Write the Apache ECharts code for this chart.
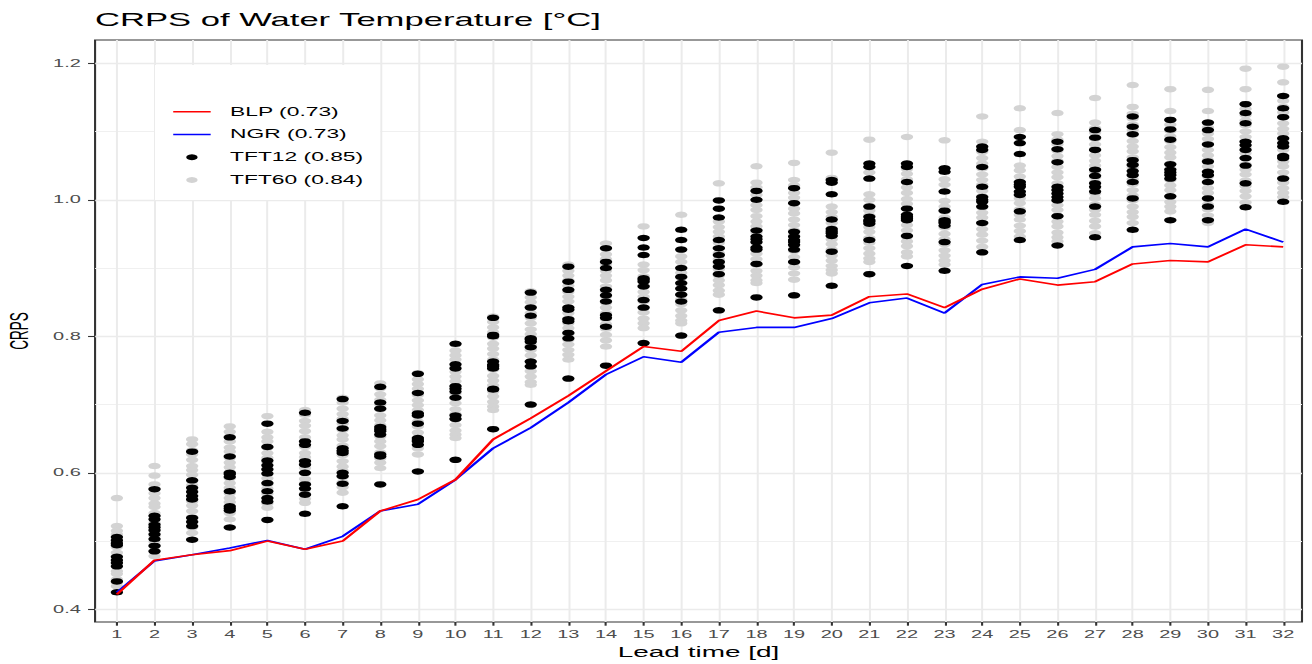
<!DOCTYPE html>
<html>
<head>
<meta charset="utf-8">
<script src="https://cdn.jsdelivr.net/npm/echarts@6/dist/echarts.min.js"></script>
<style>
  html, body { margin: 0; padding: 0; background: #ffffff; overflow: hidden; }
  /* the figure is laid out on a narrower canvas and widened to the page */
  #chart { width: 690px; height: 664px; transform: scaleX(1.901449); transform-origin: 0 0; }
</style>
</head>
<body>
<div id="chart"></div>
<script>
const leadTimes = [1,2,3,4,5,6,7,8,9,10,11,12,13,14,15,16,17,18,19,20,21,22,23,24,25,26,27,28,29,30,31,32];

const blp = [0.422,0.472,0.480,0.486,0.500,0.488,0.500,0.544,0.561,0.590,0.649,0.680,0.713,0.749,0.785,0.778,
             0.823,0.837,0.827,0.831,0.858,0.862,0.842,0.869,0.884,0.875,0.880,0.906,0.911,0.909,0.934,0.931];

const ngr = [0.425,0.471,0.480,0.490,0.501,0.488,0.507,0.544,0.554,0.590,0.636,0.666,0.703,0.744,0.770,0.762,
             0.806,0.813,0.813,0.826,0.849,0.856,0.834,0.876,0.887,0.885,0.898,0.931,0.936,0.931,0.957,0.938];

// TFT trained on 12 runs: one CRPS per run and lead time
const tft12 = [
  [0.506,0.501,0.494,0.477,0.472,0.468,0.463,0.441,0.425,0.497],
  [0.576,0.537,0.532,0.524,0.516,0.510,0.503,0.493,0.485,0.520],
  [0.631,0.589,0.578,0.572,0.566,0.561,0.534,0.528,0.522,0.502],
  [0.652,0.624,0.600,0.594,0.573,0.551,0.545,0.520,0.598,0.548],
  [0.672,0.638,0.618,0.611,0.605,0.599,0.585,0.573,0.563,0.558,0.531],
  [0.688,0.646,0.641,0.617,0.612,0.600,0.583,0.577,0.568,0.540],
  [0.708,0.676,0.665,0.636,0.632,0.600,0.595,0.584,0.551,0.629],
  [0.726,0.703,0.694,0.667,0.661,0.656,0.627,0.624,0.583,0.664],
  [0.745,0.717,0.687,0.672,0.651,0.646,0.641,0.602,0.684,0.648],
  [0.789,0.759,0.753,0.727,0.719,0.710,0.684,0.679,0.619,0.723],
  [0.827,0.802,0.800,0.763,0.758,0.753,0.723,0.722,0.664,0.756],
  [0.864,0.842,0.830,0.797,0.792,0.784,0.763,0.756,0.700,0.795],
  [0.902,0.880,0.868,0.839,0.825,0.805,0.797,0.738,0.842,0.822],
  [0.929,0.909,0.900,0.868,0.860,0.851,0.831,0.827,0.814,0.757],
  [0.944,0.930,0.919,0.885,0.880,0.873,0.853,0.842,0.790,0.883],
  [0.956,0.941,0.927,0.900,0.887,0.878,0.870,0.861,0.851,0.801],
  [0.999,0.987,0.974,0.941,0.929,0.919,0.909,0.902,0.891,0.838],
  [1.013,1.000,0.955,0.946,0.938,0.930,0.927,0.906,0.857,0.942],
  [1.017,0.995,0.953,0.941,0.934,0.927,0.909,0.860,0.938,0.946],
  [1.029,1.008,0.971,0.957,0.951,0.947,0.924,0.874,1.025,0.954],
  [1.053,1.048,1.031,0.990,0.975,0.970,0.965,0.941,0.891,0.968],
  [1.053,1.048,1.026,0.987,0.978,0.973,0.947,0.903,0.975,0.970],
  [1.046,1.041,1.012,0.984,0.970,0.966,0.962,0.938,0.896,0.968],
  [1.078,1.073,1.048,1.019,1.004,0.997,0.990,0.966,0.923,1.000],
  [1.092,1.083,1.067,1.026,1.019,1.012,1.007,0.983,0.941,1.022],
  [1.085,1.074,1.055,1.019,1.009,1.004,0.999,0.976,0.933,1.014],
  [1.102,1.091,1.073,1.044,1.035,1.024,1.019,1.012,0.990,0.945],
  [1.122,1.107,1.096,1.058,1.051,1.042,1.036,1.026,1.002,0.956],
  [1.117,1.103,1.088,1.052,1.044,1.036,1.031,1.005,0.970,1.040],
  [1.113,1.102,1.081,1.056,1.041,1.036,1.026,1.002,0.990,0.970],
  [1.140,1.127,1.112,1.085,1.080,1.073,1.061,1.050,1.024,0.989],
  [1.152,1.134,1.121,1.090,1.083,1.078,1.064,1.061,1.031,0.997]
];

// TFT trained on 60 runs
const tft60 = [
  [0.563,0.522,0.515,0.510,0.502,0.496,0.491,0.483,0.478,0.470,0.465,0.456,0.452,0.444,0.439,0.434],
  [0.610,0.596,0.583,0.577,0.570,0.563,0.555,0.550,0.541,0.536,0.527,0.521,0.514,0.507,0.499,0.494,0.486,0.478],
  [0.649,0.642,0.633,0.627,0.619,0.610,0.604,0.597,0.588,0.582,0.574,0.567,0.558,0.552,0.544,0.535,0.529,0.520,0.512],
  [0.668,0.660,0.653,0.646,0.637,0.631,0.622,0.615,0.608,0.601,0.592,0.585,0.578,0.570,0.563,0.557,0.548,0.541,0.532],
  [0.683,0.660,0.652,0.646,0.637,0.629,0.622,0.615,0.606,0.599,0.592,0.583,0.577,0.569,0.562,0.555,0.549],
  [0.692,0.685,0.676,0.669,0.661,0.652,0.646,0.638,0.629,0.623,0.614,0.607,0.600,0.591,0.585,0.577,0.570,0.562,0.556],
  [0.710,0.703,0.694,0.686,0.679,0.672,0.663,0.655,0.649,0.640,0.633,0.626,0.617,0.609,0.603,0.594,0.586,0.579,0.571],
  [0.731,0.724,0.715,0.707,0.700,0.693,0.684,0.677,0.670,0.661,0.653,0.646,0.639,0.630,0.621,0.615,0.607],
  [0.746,0.737,0.730,0.723,0.714,0.706,0.699,0.692,0.683,0.675,0.668,0.659,0.650,0.643,0.636,0.627],
  [0.788,0.779,0.772,0.766,0.757,0.748,0.741,0.734,0.725,0.716,0.709,0.702,0.693,0.686,0.679,0.670,0.662,0.656,0.651],
  [0.829,0.821,0.813,0.806,0.798,0.789,0.782,0.774,0.766,0.759,0.751,0.742,0.735,0.728,0.719,0.712,0.704,0.697,0.692],
  [0.866,0.857,0.850,0.843,0.834,0.827,0.819,0.810,0.803,0.796,0.787,0.780,0.772,0.763,0.756,0.749,0.741,0.733,0.729],
  [0.905,0.896,0.889,0.882,0.874,0.865,0.858,0.851,0.842,0.834,0.826,0.819,0.812,0.803,0.795,0.788,0.780,0.773,0.766],
  [0.936,0.928,0.920,0.913,0.905,0.896,0.889,0.882,0.873,0.865,0.858,0.849,0.842,0.834,0.825,0.818,0.811,0.802,0.794,0.785],
  [0.961,0.905,0.897,0.888,0.881,0.874,0.865,0.858,0.851,0.842,0.835,0.826,0.819,0.812],
  [0.978,0.917,0.909,0.900,0.893,0.886,0.877,0.870,0.861,0.854,0.847,0.838,0.830,0.823,0.819],
  [1.024,0.968,0.960,0.953,0.946,0.937,0.929,0.922,0.913,0.906,0.898,0.889,0.882,0.875,0.867,0.861],
  [1.049,1.025,1.018,1.007,0.992,0.985,0.976,0.968,0.961,0.952,0.944,0.937,0.928,0.921,0.913,0.905,0.896,0.889,0.882,0.878],
  [1.054,1.029,1.021,1.010,1.003,0.987,0.980,0.971,0.963,0.955,0.948,0.939,0.932,0.925,0.916,0.908,0.901,0.892,0.883],
  [1.069,1.032,0.990,0.982,0.975,0.966,0.958,0.951,0.942,0.935,0.927,0.918,0.911,0.903,0.897,0.892],
  [1.088,1.040,1.008,1.000,0.991,0.984,0.977,0.968,0.960,0.953,0.944,0.937,0.929,0.921,0.914,0.909],
  [1.092,1.053,1.045,1.038,1.030,1.018,1.010,1.001,0.994,0.987,0.978,0.970,0.963,0.955,0.946,0.939,0.932,0.923,0.917],
  [1.087,1.030,1.022,0.998,0.990,0.983,0.974,0.966,0.959,0.950,0.942,0.935,0.926,0.918,0.911,0.905],
  [1.122,1.085,1.077,1.070,1.061,1.053,1.046,1.037,1.029,1.022,1.013,1.005,0.998,0.989,0.981,0.974,0.965,0.957,0.949,0.940,0.931],
  [1.134,1.102,1.050,1.043,1.034,1.026,1.019,1.010,1.002,0.995,0.986,0.978,0.971,0.962,0.954,0.946],
  [1.127,1.096,1.088,1.081,1.072,1.064,1.057,1.048,1.040,1.033,1.024,1.016,1.009,1.000,0.992,0.985,0.976,0.968,0.961,0.952,0.945,0.939],
  [1.149,1.113,1.105,1.098,1.089,1.081,1.074,1.065,1.057,1.050,1.041,1.033,1.026,1.017,1.009,1.002,0.993,0.985,0.978,0.969,0.961,0.951],
  [1.168,1.136,1.126,1.119,1.110,1.102,1.095,1.086,1.078,1.071,1.062,1.054,1.047,1.038,1.030,1.023,1.014,1.006,0.999,0.990,0.982,0.975,0.966],
  [1.162,1.130,1.117,1.110,1.101,1.093,1.086,1.077,1.069,1.062,1.053,1.045,1.038,1.029,1.021,1.014,1.005,0.997,0.990,0.983],
  [1.161,1.130,1.113,1.106,1.097,1.089,1.082,1.073,1.065,1.058,1.049,1.041,1.034,1.025,1.017,1.010,1.001,0.993,0.986,0.977,0.971,0.966],
  [1.192,1.162,1.140,1.133,1.124,1.116,1.109,1.100,1.092,1.085,1.076,1.068,1.061,1.052,1.044,1.037,1.028,1.020,1.013,1.005,0.996,0.990],
  [1.195,1.172,1.152,1.145,1.136,1.128,1.121,1.112,1.104,1.097,1.088,1.080,1.073,1.064,1.056,1.049,1.040,1.032,1.025,1.017,1.010,1.004]
];

const yMajorTicks = [0.4, 0.6, 0.8, 1.0, 1.2];
const yMinorTicks = [0.5, 0.7, 0.9, 1.1];
const seriesNames = ['BLP (0.73)', 'NGR (0.73)', 'TFT12 (0.85)', 'TFT60 (0.84)'];

const FONT = "'Liberation Sans', Arial, Helvetica, sans-serif";
// plain line key for the legend (invisible move-tos keep the full key box)
const LINE_KEY = 'path://M0,0 M20,6 M0,2.2 L20,2.2 L20,3.8 L0,3.8 Z';

function toPoints(groups) {
  const pts = [];
  groups.forEach((vals, i) => vals.forEach(v => pts.push([leadTimes[i], v])));
  return pts;
}
const linePoints = vals => vals.map((v, i) => [leadTimes[i], v]);

const chart = echarts.init(document.getElementById('chart'), null, { renderer: 'svg' });

chart.setOption({
  animation: false,
  backgroundColor: '#ffffff',
  textStyle: { fontFamily: FONT },
  title: {
    text: 'CRPS of Water Temperature [°C]',
    left: 50, top: 10.6, padding: 0,
    textStyle: { fontFamily: FONT, fontSize: 18.2, fontWeight: 'normal', color: '#000000' }
  },
  legend: {
    orient: 'vertical',
    left: 81.5, top: 65,
    padding: [39.7, 8.9, 13, 9.6],
    backgroundColor: '#ffffff',
    itemWidth: 19.7, itemHeight: 6, itemGap: 8.77,
    selectedMode: false,
    z: 10,
    textStyle: { fontFamily: FONT, fontSize: 12, color: '#000000', lineHeight: 14, padding: [0, 0, 0, 5.2] },
    data: [
      { name: seriesNames[0], icon: LINE_KEY },
      { name: seriesNames[1], icon: LINE_KEY },
      { name: seriesNames[2], icon: 'circle' },
      { name: seriesNames[3], icon: 'circle' }
    ]
  },
  grid: {
    left: 50, right: 5.26, top: 40, bottom: 42,
    outerBoundsMode: 'none',
    show: true, backgroundColor: '#ffffff', borderColor: '#333333', borderWidth: 1.1
  },
  xAxis: {
    type: 'value', min: 0.42, max: 32.5,
    name: 'Lead time [d]', nameLocation: 'middle', nameGap: 20.6,
    nameTextStyle: { fontFamily: FONT, fontSize: 14.7, color: '#000000' },
    axisLine: { show: false },
    axisTick: { show: true, inside: false, length: 3.7, customValues: leadTimes,
                lineStyle: { color: '#333333', width: 1.1 } },
    axisLabel: { customValues: leadTimes, margin: 6.5, fontFamily: FONT, fontSize: 10.5, color: '#4d4d4d',
                 formatter: v => String(Math.round(v)) },
    splitLine: { show: true, lineStyle: { color: '#ebebeb', width: 1.05 } }
  },
  yAxis: [
    {
      type: 'value', min: 0.3815, max: 1.234,
      name: 'CRPS', nameLocation: 'middle', nameRotate: 90, nameGap: 26,
      nameTextStyle: { fontFamily: FONT, fontSize: 13.5, color: '#000000' },
      axisLine: { show: false },
      axisTick: { show: true, inside: false, length: 3.7, customValues: yMajorTicks,
                  lineStyle: { color: '#333333', width: 1.1 } },
      axisLabel: { customValues: yMajorTicks, margin: 7.5, fontFamily: FONT, fontSize: 10.5, color: '#4d4d4d',
                   formatter: v => v.toFixed(1) },
      splitLine: { show: true, lineStyle: { color: '#ebebeb', width: 1.4 } }
    },
    {
      type: 'value', min: 0.3815, max: 1.234, position: 'left',
      axisLine: { show: false },
      axisTick: { show: false, customValues: yMinorTicks },
      axisLabel: { show: false, customValues: yMinorTicks },
      splitLine: { show: true, lineStyle: { color: '#f0f0f0', width: 0.9 } }
    }
  ],
  series: [
    {
      name: seriesNames[3], type: 'scatter', z: 2,
      symbol: 'circle', symbolSize: 6.5,
      itemStyle: { color: '#d3d3d3', opacity: 1 },
      emphasis: { disabled: true },
      data: toPoints(tft60)
    },
    {
      name: seriesNames[2], type: 'scatter', z: 3,
      symbol: 'circle', symbolSize: 6.5,
      itemStyle: { color: '#000000', opacity: 1 },
      emphasis: { disabled: true },
      data: toPoints(tft12)
    },
    {
      name: seriesNames[1], type: 'line', z: 4,
      symbol: 'none', showSymbol: false,
      lineStyle: { color: '#0000ff', width: 1.6 },
      itemStyle: { color: '#0000ff' },
      emphasis: { disabled: true },
      data: linePoints(ngr)
    },
    {
      name: seriesNames[0], type: 'line', z: 5,
      symbol: 'none', showSymbol: false,
      lineStyle: { color: '#ff0000', width: 1.6 },
      itemStyle: { color: '#ff0000' },
      emphasis: { disabled: true },
      data: linePoints(blp)
    }
  ]
});
</script>
</body>
</html>
